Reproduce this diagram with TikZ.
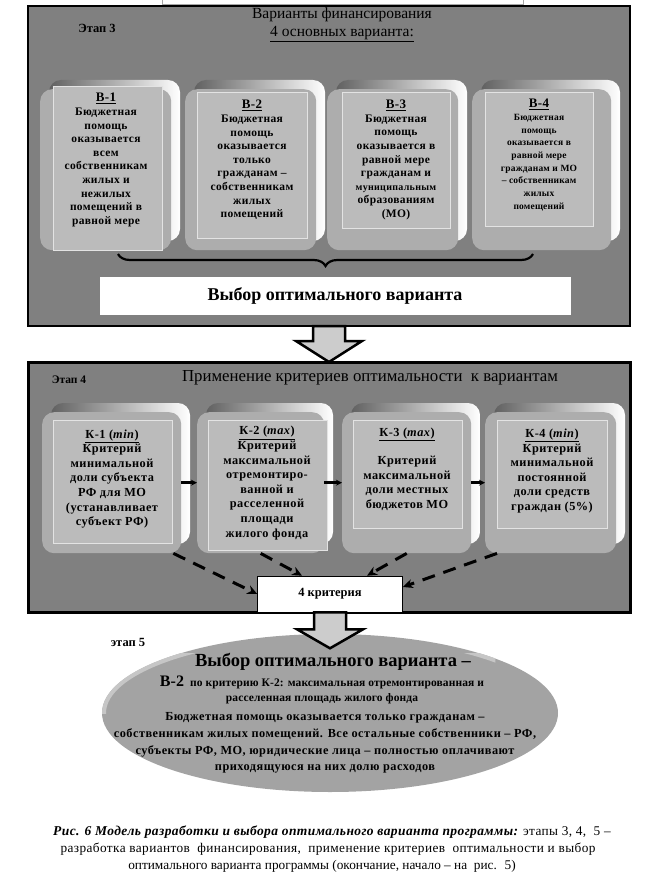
\documentclass[tikz,border=0pt]{standalone}
\usepackage{fontspec}
\setmainfont{Liberation Serif}
\usetikzlibrary{decorations.pathreplacing,arrows.meta,calc,shapes.geometric}
\definecolor{panelgray}{HTML}{808080}
\definecolor{facegray}{HTML}{ADADAD}
\definecolor{innergray}{HTML}{BBBBBB}
\definecolor{ellgray}{HTML}{A3A3A3}
\newcommand\fs[2]{\fontsize{#1}{#2}\selectfont}
\newcommand\lsp[1]{\addfontfeatures{LetterSpace=#1}}
\newcommand\bevelbox[5]{%
  \shade[rounded corners=12pt, left color=black!62, middle color=black!50, right color=white] (#2+9,#3) rectangle (#2+#4,#3+#5-9);
  \node[face, minimum width=#4-9, minimum height=#5-9, anchor=north west] (#1) at (#2,#3+9) {};}
\newcommand\blockdown[3]{%
  \draw[barrow] ($#1+(-16,0)$) -- ++(0,#2) -- ++(-17,0) -- ++(33,#3) -- ++(33,-#3) -- ++(-17,0) -- ++(0,-#2) -- cycle;}
\tikzset{
  panel/.style={fill=panelgray, draw=black, inner sep=0pt, outer sep=0pt},
  face/.style={fill=facegray, rounded corners=12pt, inner sep=0pt},
  innerc/.style={fill=innergray, draw=white!78!gray, line width=0.6pt},
  btext/.style={font=\bfseries\fs{11.5}{13.6}\lsp{3}, align=center, inner sep=0pt},
  ktext/.style={font=\bfseries\fs{12.3}{14.6}\lsp{4}, align=center, inner sep=0pt},
  captext/.style={font=\fs{13.3}{17}\lsp{3}, inner sep=0pt},
  barrow/.style={draw=black, line width=2.5pt, fill=black!20, line join=miter},
  dasharrow/.style={line width=3pt, dash pattern=on 13pt off 9pt, -{Stealth[length=10pt,width=9pt]}},
  smallarrow/.style={line width=2.5pt, -{Stealth[length=6pt,width=6pt]}},
}
\begin{document}
\begin{tikzpicture}[x=1pt,y=-1pt]
\useasboundingbox (0,0) rectangle (654,890);
% top remnant box
\draw[gray!70, line width=1pt, fill=white] (162,-3) rectangle (523,5);
% ---------- stage 3 ----------
\node[panel, line width=1.5pt, minimum width=602, minimum height=320, anchor=north west] (P3) at (28,6) {};
\node[font=\bfseries\fs{12.5}{14}] (st3) at (97,28) {Этап 3};
\node[font=\fs{15.5}{17.5}, align=center, inner sep=0pt] (t3) at (342,25) {Варианты финансирования\\\underline{4 основных варианта:}};
\bevelbox{B1}{40}{80}{140}{170}
\bevelbox{B2}{185}{80}{140}{170}
\bevelbox{B3}{327}{80}{140}{170}
\bevelbox{B4}{472}{80}{148}{170}
\fill[innerc] (53,86) rectangle (162,250);
\fill[innerc] (197,92) rectangle (307,238);
\fill[innerc] (342,92) rectangle (450,228);
\fill[innerc] (485,92) rectangle (593,226);
\node[btext] (B1t) at (106,160) {{\fs{13}{15}\underline{В-1}}\\Бюджетная\\помощь\\оказывается\\всем\\собственникам\\жилых и\\нежилых\\помещений в\\равной мере};
\node[btext] (B2t) at (252,160) {{\fs{13}{15}\underline{В-2}}\\Бюджетная\\помощь\\оказывается\\только\\гражданам –\\собственникам\\жилых\\помещений};
\node[btext] (B3t) at (396,160) {{\fs{13}{15}\underline{В-3}}\\Бюджетная\\помощь\\оказывается в\\равной мере\\гражданам и\\{\fs{10}{13.6}муниципальным}\\образованиям\\(МО)};
\node[btext, font=\bfseries\fs{9.5}{12.7}\lsp{2}] (B4t) at (539,155) {{\fs{13}{15}\underline{В-4}}\\Бюджетная\\помощь\\оказывается в\\равной мере\\гражданам и МО\\– собственникам\\жилых\\помещений};
\draw[decorate, decoration={brace, mirror, amplitude=12pt}, line width=2.2pt] (118,254) -- (533,254);
\node[fill=white, minimum width=471, minimum height=38, inner sep=0pt, font=\bfseries\fs{18}{20}] (W) at (335,296) {Выбор оптимального варианта};
% ---------- stage 4 ----------
\node[panel, line width=3pt, minimum width=602, minimum height=250, anchor=north west] (P4) at (28,362) {};
\blockdown{(P3.south)}{15}{21}
\node[font=\bfseries\fs{11.5}{13}] (st4) at (69,380) {Этап 4};
\node[font=\fs{16.8}{18}] (t4) at (370,378) {Применение критериев оптимальности \ к вариантам};
\bevelbox{K1}{42}{403}{148}{150}
\bevelbox{K2}{197}{403}{136}{150}
\bevelbox{K3}{342}{403}{138}{150}
\bevelbox{K4}{485}{403}{140}{150}
\fill[innerc] (53,420) rectangle (172,543);
\fill[innerc] (208,420) rectangle (327,550);
\fill[innerc] (353,420) rectangle (462,528);
\fill[innerc] (497,420) rectangle (607,528);
\node[ktext] (K1t) at (112,479) {\underline{К-1 (\textit{min})}\\Критерий\\минимальной\\доли субъекта\\РФ для МО\\(устанавливает\\субъект РФ)};
\node[ktext] (K2t) at (267,483) {\underline{К-2 (\textit{max})}\\Критерий\\максимальной\\отремонтиро-\\ванной и\\расселенной\\площади\\жилого фонда};
\node[ktext] (K3t) at (407,469) {\underline{К-3 (\textit{max})}\\[14pt]Критерий\\максимальной\\доли местных\\бюджетов МО};
\node[ktext] (K4t) at (552,471) {\underline{К-4 (\textit{min})}\\Критерий\\минимальной\\постоянной\\доли средств\\граждан (5\%)};
\draw[smallarrow] (K1.east) -- (K2.west);
\draw[smallarrow] (K2.east) -- (K3.west);
\draw[smallarrow] (K3.east) -- (K4.west);
\node[fill=white, draw=black, line width=0.6pt, minimum width=145, minimum height=36, inner sep=0pt, font=\bfseries\fs{12.5}{14}] (C4) at (330,594) {4 критерия};
\draw[dasharrow] ($(K1.south east)+(-8,0)$) -- (C4.west);
\draw[dasharrow] (K2.south) -- ($(C4.north)+(-28,0)$);
\draw[dasharrow] (K3.south) -- ($(C4.north)+(37,0)$);
\draw[dasharrow] ($(K4.south west)+(12,0)$) -- ($(C4.east)+(0,-7)$);
% ---------- stage 5 ----------
\node[font=\bfseries\fs{12.5}{14}] (st5) at (128,642) {этап 5};
\node[ellipse, fill=ellgray, minimum width=456, minimum height=158, inner sep=0pt] (E) at (330,713) {};
\begin{scope}
  \clip (E.west) rectangle ($(E.north east)+(4,-4)$);
  \draw[line width=4pt, gray!45] (E.center) ellipse [x radius=226, y radius=77];
\end{scope}
\blockdown{(C4.south)}{17}{19}
\node[font=\bfseries\fs{18.5}{20}] (Et) at (333,662) {Выбор оптимального варианта –};
\node[font=\bfseries\fs{11.5}{15}\lsp{1}, align=center, inner sep=0pt] (Ek) at (322,690) {{\fs{16}{15}В-2} \ по критерию К-2: максимальная отремонтированная и\\расселенная площадь жилого фонда};
\node[font=\bfseries\fs{12.3}{16.8}\lsp{4}, align=center, inner sep=0pt] (Eb) at (325,743) {Бюджетная помощь оказывается только гражданам –\\собственникам жилых помещений. Все остальные собственники – РФ,\\субъекты РФ, МО, юридические лица – полностью оплачивают\\приходящуюся на них долю расходов};
% ---------- caption ----------
\node[captext] (cap1) at (332,832) {{\fs{13.5}{17}\bfseries\itshape\lsp{3}Рис. 6 Модель разработки и выбора оптимального варианта программы:} этапы 3, 4, \ 5 –};
\node[captext] (cap2) at (328,849) {разработка вариантов \ финансирования, \ применение критериев \ оптимальности и выбор};
\node[captext, font=\fs{13.3}{17}] (cap3) at (322,866) {оптимального варианта программы (окончание, начало – на \ рис. \ 5)};
\end{tikzpicture}
\end{document}
